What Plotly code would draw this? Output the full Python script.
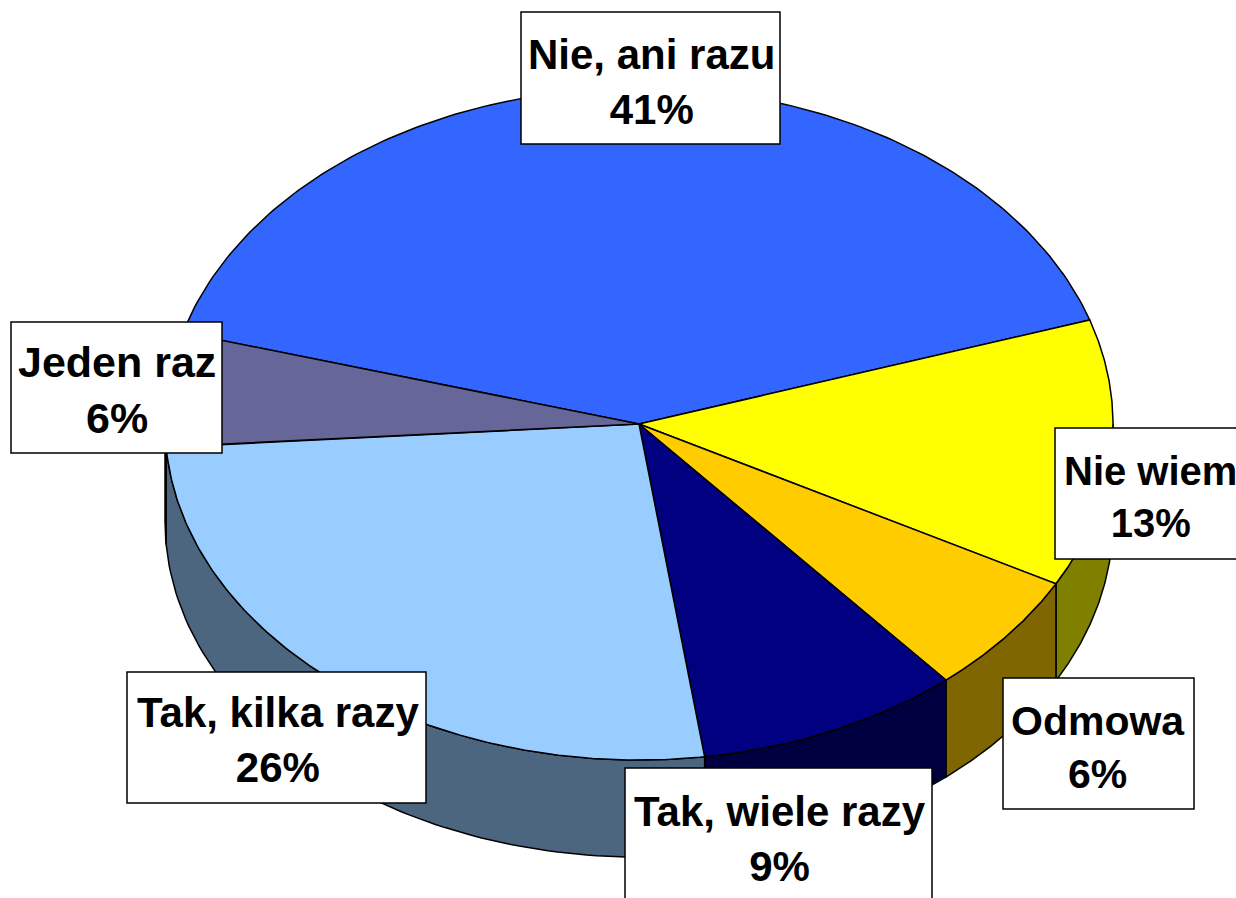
import numpy as np
import plotly.graph_objects as go

labels = ["Nie, ani razu", "Nie wiem", "Odmowa", "Tak, wiele razy", "Tak, kilka razy", "Jeden raz"]
values = [40.6, 12.9, 5.9, 9.0, 26.1, 5.5]
percent_labels = ["41%", "13%", "6%", "9%", "26%", "6%"]
top_colors = ["#3366FF", "#FFFF00", "#FFCC00", "#000080", "#99CCFF", "#666699"]
side_colors = ["#1A3380", "#808000", "#806600", "#000040", "#4D6680", "#333350"]
boxes = [(521, 12, 780, 144), (1055, 428, 1250, 559), (1003, 678, 1194, 809),
         (625, 768, 932, 910), (127, 672, 426, 803), (11, 322, 222, 453)]
font_sizes = [42, 40, 41, 42, 42, 43]

CX, CY, RX, RY, DEPTH = 639, 424, 474, 336, 97
START = -164.2  # degrees clockwise from east, start of first slice

fig = go.Figure()
ang = START
wedges = []
for v in values:
    wedges.append((ang, ang + v * 3.6))
    ang += v * 3.6

# side walls (visible only on the front half: 0..180 clockwise from east)
for (a0, a1), col in zip(wedges, side_colors):
    ranges = []
    for lo, hi in ((0, 180), (360, 540), (-360, -180)):
        s, e = max(a0, lo), min(a1, hi)
        if e > s:
            ranges.append((s, e))
    for s, e in ranges:
        t = np.radians(np.linspace(s, e, 80))
        x = CX + RX * np.cos(t)
        y = CY + RY * np.sin(t)
        fig.add_trace(go.Scatter(
            x=np.r_[x, x[::-1], x[0]], y=np.r_[y, y[::-1] + DEPTH, y[0]],
            mode="lines", fill="toself", fillcolor=col,
            line=dict(color="black", width=1.5), hoverinfo="skip"))

# top faces
for (a0, a1), col in zip(wedges, top_colors):
    t = np.radians(np.linspace(a0, a1, 160))
    x = CX + RX * np.cos(t)
    y = CY + RY * np.sin(t)
    fig.add_trace(go.Scatter(
        x=np.r_[CX, x, CX], y=np.r_[CY, y, CY],
        mode="lines", fill="toself", fillcolor=col,
        line=dict(color="black", width=1.5), hoverinfo="skip"))

# label boxes
for x0, y0, x1, y1 in boxes:
    fig.add_shape(type="rect", x0=x0, y0=y0, x1=x1, y1=y1, fillcolor="white",
                  line=dict(color="black", width=1.5), layer="above")

anchors = [(651, 82), (1150, 497), (1098, 747), (780, 839), (278, 740), (117, 390)]
for lab, pct, (ax, ay), fs in zip(labels, percent_labels, anchors, font_sizes):
    fig.add_annotation(x=ax, y=ay, text=f"{lab}<br>{pct}", showarrow=False,
                       font=dict(family="Liberation Sans", size=fs, color="black", weight="bold"),
                       align="center", xanchor="center", yanchor="middle")

fig.update_layout(
    width=1236, height=898, margin=dict(l=0, r=0, t=0, b=0), showlegend=False,
    paper_bgcolor="white", plot_bgcolor="white",
    xaxis=dict(range=[0, 1236], visible=False, fixedrange=True),
    yaxis=dict(range=[898, 0], visible=False, fixedrange=True),
)
fig.write_html("out.html", config={"displayModeBar": False},
               post_script="document.body.style.margin='0';document.body.style.overflow='hidden';")
